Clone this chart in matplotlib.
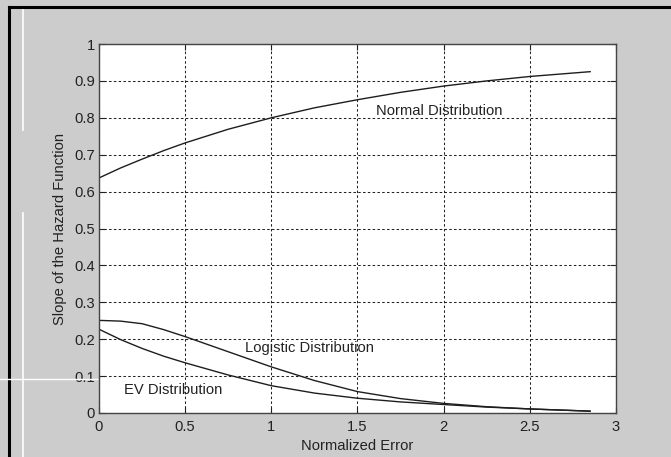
import matplotlib.pyplot as plt
from matplotlib.lines import Line2D

plt.rcParams['font.family'] = ['Liberation Sans', 'DejaVu Sans']

# values
err = [0.0, 0.125, 0.25, 0.375, 0.5, 0.75, 1.0, 1.25, 1.5, 1.75, 2.0, 2.25, 2.5, 2.85]
normal_slope = [0.637, 0.664, 0.688, 0.711, 0.732, 0.769, 0.800, 0.827, 0.849, 0.869,
                0.886, 0.900, 0.912, 0.925]
logistic_slope = [0.251, 0.249, 0.242, 0.226, 0.207, 0.166, 0.125, 0.088, 0.058, 0.039,
                  0.026, 0.017, 0.011, 0.005]
ev_slope = [0.227, 0.199, 0.175, 0.154, 0.136, 0.103, 0.074, 0.054, 0.040, 0.030,
            0.023, 0.016, 0.011, 0.005]

xticks = [0, 0.5, 1, 1.5, 2, 2.5, 3]
yticks = [0, 0.1, 0.2, 0.3, 0.4, 0.5, 0.6, 0.7, 0.8, 0.9, 1]

W, H = 671, 457
bg = '#cccccc'
ink = '#222222'

fig = plt.figure(figsize=(W / 100, H / 100), dpi=100, facecolor=bg)
ax = fig.add_axes([99 / W, 1 - 413 / H, 517 / W, 369 / H])

for ys in (normal_slope, logistic_slope, ev_slope):
    ax.plot(err, ys, color='#1e1e1e', lw=1.0)

ax.text(1.61, 0.819, 'Normal Distribution', fontsize=10.6, va='center', ha='left', color=ink)
ax.text(0.847, 0.175, 'Logistic Distribution', fontsize=10.6, va='center', ha='left', color=ink)
ax.text(0.147, 0.062, 'EV Distribution', fontsize=10.6, va='center', ha='left', color=ink)

ax.set_xlim(0, 3)
ax.set_ylim(0, 1)
ax.set_xticks(xticks)
ax.set_xticklabels([f'{t:g}' for t in xticks])
ax.set_yticks(yticks)
ax.set_yticklabels([f'{t:g}' for t in yticks])
ax.grid(True, color=ink, linestyle=(0, (2.4, 2.2)), linewidth=0.75)
ax.tick_params(direction='in', top=True, right=True, length=4, width=0.8,
               labelsize=10.6, colors=ink, pad=3)
ax.tick_params(axis='x', pad=5)
for s in ax.spines.values():
    s.set_color('#444444')
    s.set_linewidth(1.0)

ax.set_xlabel('Normalized Error', fontsize=10.6, color=ink, labelpad=4)
ax.set_ylabel('Slope of the Hazard Function', fontsize=10.6, color=ink, labelpad=5)


def px_line(x0, y0, x1, y1, color, lw):
    fig.add_artist(Line2D([x0 / W, x1 / W], [1 - y0 / H, 1 - y1 / H],
                          transform=fig.transFigure, color=color, lw=lw))


# window frame and screen-capture artifacts
px_line(9, 7, W, 7, 'black', 2.2)
px_line(9, 7, 9, H, 'black', 2.2)
px_line(22.5, 10, 22.5, 130, 'white', 1.2)
px_line(22.5, 213, 22.5, H, 'white', 1.2)
px_line(0, 379, 97, 379, 'white', 1.0)

fig.savefig('out.png', dpi=100, facecolor=bg)
